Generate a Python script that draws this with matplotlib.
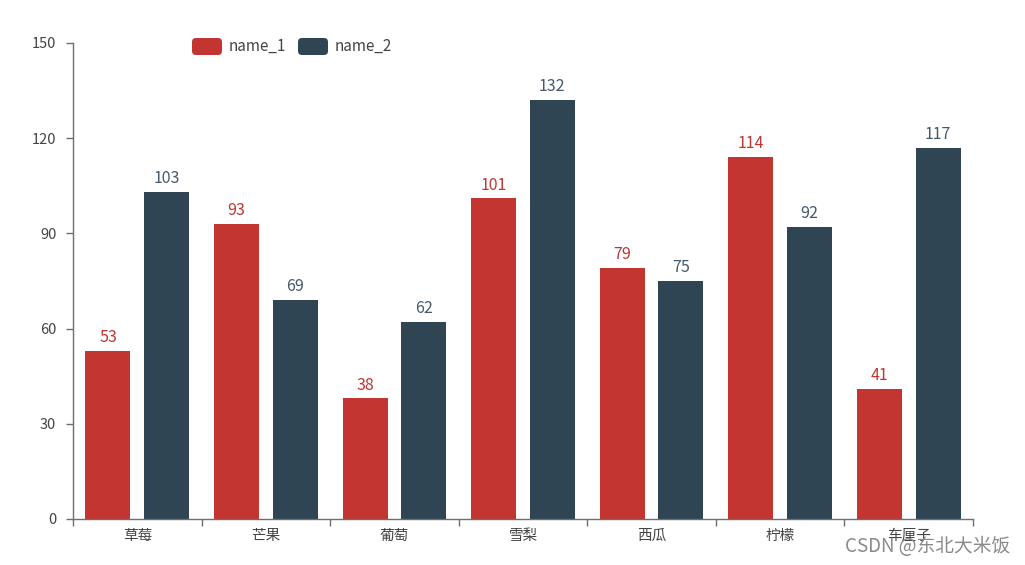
import matplotlib
matplotlib.use("Agg")
import matplotlib.pyplot as plt
from matplotlib.patches import FancyBboxPatch
import numpy as np

plt.rcParams['font.family'] = ['Noto Sans CJK SC', 'DejaVu Sans']

categories = ['草莓', '芒果', '葡萄', '雪梨', '西瓜', '柠檬', '车厘子']
series_names = ['name_1', 'name_2']
name_1 = [53, 93, 38, 101, 79, 114, 41]
name_2 = [103, 69, 62, 132, 75, 92, 117]
colors = ['#c23531', '#2f4554']
y_ticks = [0, 30, 60, 90, 120, 150]

W, H = 1025, 565
fig = plt.figure(figsize=(W / 100, H / 100), dpi=100)
ax = fig.add_axes([73 / W, 1 - 519 / H, 900 / W, 476 / H])

x = np.arange(len(categories))
bw = 0.35
off = 0.228
axis_col = '#6e6e6e'
text_col = '#444444'

for vals, sign, col in [(name_1, -1, colors[0]), (name_2, 1, colors[1])]:
    bars = ax.bar(x + sign * off, vals, width=bw, color=col, zorder=2)
    for b, v in zip(bars, vals):
        ax.annotate(str(v), (b.get_x() + b.get_width() / 2, v),
                    xytext=(0, 3.5), textcoords='offset points',
                    ha='center', va='bottom', fontsize=11.5,
                    color=col if sign < 0 else '#46586a')

ax.set_xlim(-0.5, len(categories) - 0.5)
ax.set_ylim(0, 150)
ax.set_yticks(y_ticks)
ax.set_yticklabels([str(t) for t in y_ticks])
ax.set_xticks(x)
ax.set_xticklabels(categories)
ax.set_xticks(np.arange(len(categories) + 1) - 0.5, minor=True)
ax.tick_params(axis='x', which='major', length=0, pad=7, labelsize=10.5, labelcolor=text_col)
ax.tick_params(axis='x', which='minor', length=5, width=1, color=axis_col)
ax.tick_params(axis='y', length=5, width=1, color=axis_col, pad=7, labelsize=10.5, labelcolor=text_col)

for s in ['top', 'right']:
    ax.spines[s].set_visible(False)
for s in ['left', 'bottom']:
    ax.spines[s].set_color(axis_col)
    ax.spines[s].set_linewidth(1)

# legend
lx = [192, 298]
for i, (name, col) in enumerate(zip(series_names, colors)):
    x0 = lx[i]
    p = FancyBboxPatch((x0 / W, 1 - 55 / H), 30 / W, 17 / H,
                       boxstyle=f"round,pad=0,rounding_size={4 / W}",
                       transform=fig.transFigure, facecolor=col, edgecolor='none',
                       mutation_aspect=W / H)
    fig.patches.append(p)
    fig.text((x0 + 37) / W, 1 - 46 / H, name, ha='left', va='center',
             fontsize=11, color=text_col)

fig.text(1010 / W, 1 - 547 / H, 'CSDN @东北大米饭', ha='right', va='center',
         fontsize=13.5, color='#8a8a8a')

fig.savefig('out.png', dpi=100)
